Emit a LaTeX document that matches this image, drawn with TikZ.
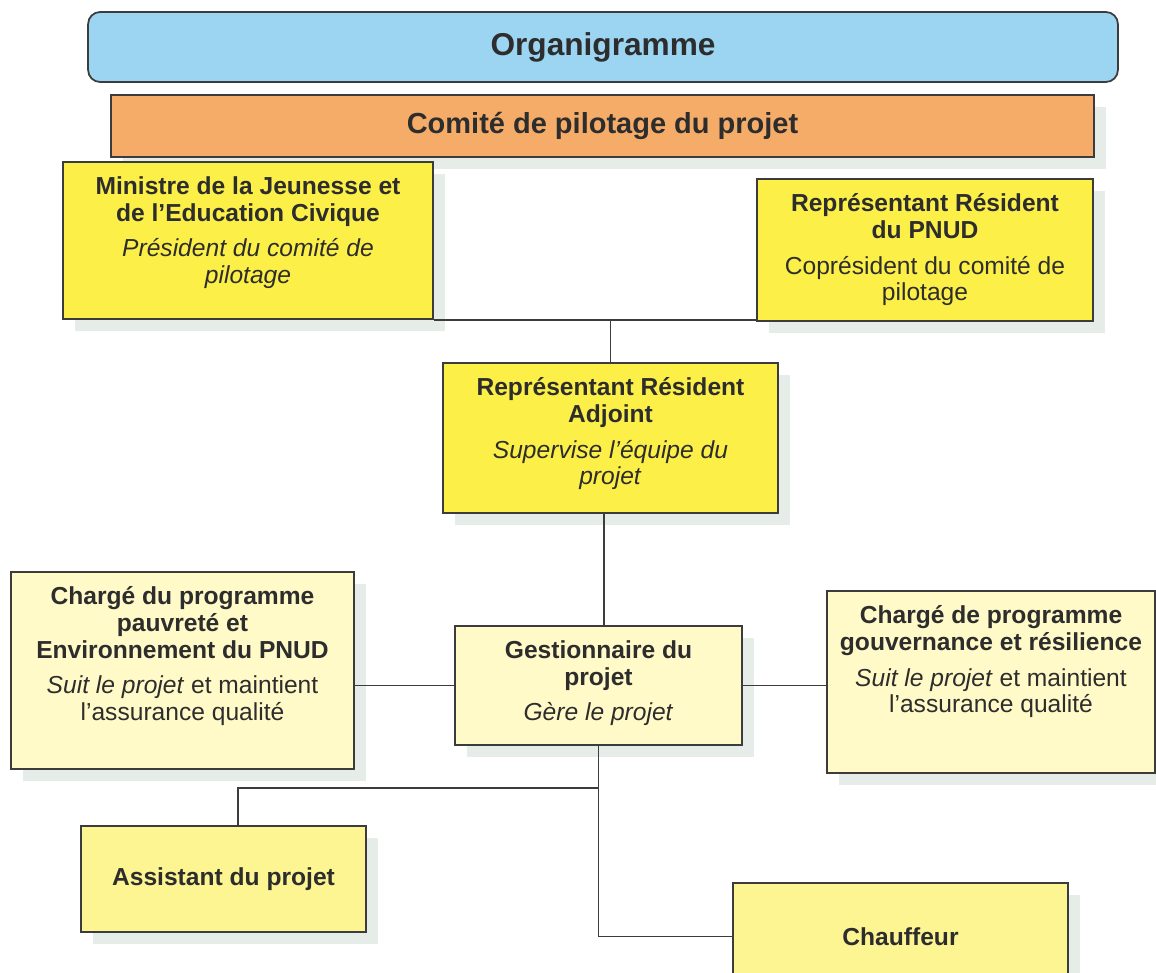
\documentclass[tikz,border=0pt]{standalone}
\usepackage{fontspec}
\setmainfont{Liberation Sans}
\usetikzlibrary{positioning,shadows}

\definecolor{headblue}{RGB}{155,213,242}
\definecolor{pilotorange}{RGB}{245,172,104}
\definecolor{chiefyellow}{RGB}{252,240,72}
\definecolor{paleyellow}{RGB}{255,250,200}
\definecolor{staffyellow}{RGB}{252,245,145}
\definecolor{edgegray}{RGB}{60,60,60}
\definecolor{textgray}{RGB}{45,45,45}
\definecolor{shadowgray}{RGB}{230,237,232}

\begin{document}
\begin{tikzpicture}[
  x=0.02cm, y=-0.02cm,
  every node/.style={font=\fontsize{14}{15.3}\selectfont, text=textgray},
  titlebox/.style={draw=edgegray, line width=1pt, rounded corners=0.24cm, fill=headblue, font=\fontsize{18}{20}\selectfont\bfseries},
  box/.style={draw=edgegray, line width=1pt, inner sep=0pt, align=center,
    drop shadow={shadow xshift=7pt, shadow yshift=-7pt, fill=shadowgray, opacity=1}},
  boxtext/.style={inner sep=0pt, align=center},
  link/.style={draw=edgegray, line width=1pt}
]
  \clip (0,0) rectangle (1156,973);

  % header bands
  \node[titlebox, minimum width=20.6cm, minimum height=1.4cm] (head) at (603,47) {Organigramme};
  \node[box, fill=pilotorange, minimum width=19.66cm, minimum height=1.24cm, font=\fontsize{16.5}{18}\selectfont\bfseries] (copil) at (602.5,126) {Comité de pilotage du projet};

  % steering committee
  \node[box, fill=chiefyellow, minimum width=7.4cm, minimum height=3.14cm] (mjec) at (248,240.5) {};
  \node[boxtext, below=0.3cm of mjec.north] (mjectext) {\textbf{Ministre de la Jeunesse et}\\\textbf{de l’Education Civique}\\[5pt]\textit{Président du comité de}\\\textit{pilotage}};

  \node[box, fill=chiefyellow, minimum width=6.72cm, minimum height=2.84cm] (pnud) at (925,250) {};
  \node[boxtext, below=0.3cm of pnud.north] (pnudtext) {\textbf{Représentant Résident}\\\textbf{du PNUD}\\[5pt]Coprésident du comité de\\pilotage};

  \node[box, fill=chiefyellow, minimum width=6.7cm, minimum height=3.0cm] (adj) at (610.5,438) {};
  \node[boxtext, below=0.3cm of adj.north] (adjtext) {\textbf{Représentant Résident}\\\textbf{Adjoint}\\[5pt]\textit{Supervise l’équipe du}\\\textit{projet}};

  % project team
  \node[box, fill=paleyellow, minimum width=6.86cm, minimum height=3.94cm] (pauv) at (182.5,670.5) {};
  \node[boxtext, below=0.3cm of pauv.north] (pauvtext) {\textbf{Chargé du programme}\\\textbf{pauvreté et}\\\textbf{Environnement du PNUD}\\[5pt]\textit{Suit le projet} et maintient\\l’assurance qualité};

  \node[box, fill=paleyellow, minimum width=5.74cm, minimum height=2.38cm] (gest) at (598.5,685.5) {};
  \node[boxtext, below=0.3cm of gest.north] (gesttext) {\textbf{Gestionnaire du}\\\textbf{projet}\\[5pt]\textit{Gère le projet}};

  \node[box, fill=paleyellow, minimum width=6.56cm, minimum height=3.64cm] (gouv) at (991,682) {};
  \node[boxtext, below=0.3cm of gouv.north] (gouvtext) {\textbf{Chargé de programme}\\\textbf{gouvernance et résilience}\\[5pt]\textit{Suit le projet} et maintient\\l’assurance qualité};

  \node[box, fill=staffyellow, minimum width=5.7cm, minimum height=2.12cm, font=\fontsize{14}{15.3}\selectfont\bfseries] (asst) at (223.5,879) {Assistant du projet};
  \node[box, fill=staffyellow, minimum width=6.7cm, minimum height=2.14cm, font=\fontsize{14}{15.3}\selectfont\bfseries] (chauf) at (900.5,936.5) {Chauffeur};

  % connectors
  \draw[link] (mjec.south east) -- (pnud.south west |- mjec.south east);
  \draw[link] (adj.north) -- (adj.north |- mjec.south);
  \draw[link] ([xshift=0.11cm]gest.north) -- ([xshift=0.11cm]gest.north |- adj.south);
  \draw[link] (gest.west) -- (gest.west -| pauv.east);
  \draw[link] (gest.east) -- (gest.east -| gouv.west);
  \draw[link] (gest.south) |- (chauf.west);
  \draw[link] (gest.south) ++(0,42) coordinate (fork) -| ([xshift=0.29cm]asst.north);
\end{tikzpicture}
\end{document}
